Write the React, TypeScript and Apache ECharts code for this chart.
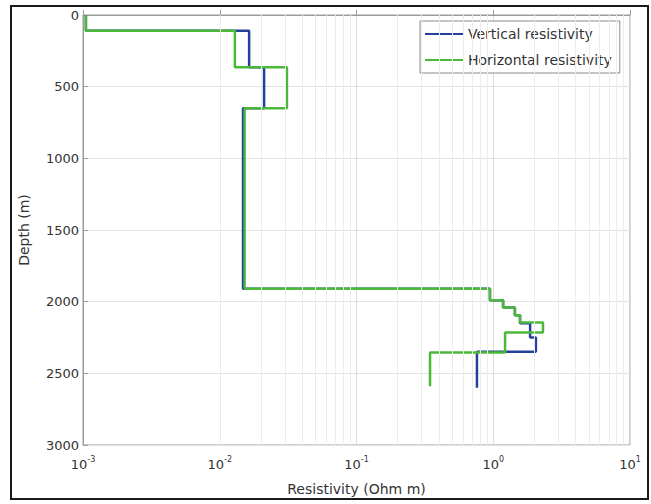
import React, { useEffect, useRef } from "react";
import * as echarts from "echarts";

// Layer boundaries (depth, m) and resistivity per layer (Ohm m)
const verticalDepths = [0, 110, 365, 650, 1910, 1990, 2040, 2095, 2150, 2250, 2350, 2600];
const verticalValues = [0.00105, 0.0164, 0.0211, 0.0148, 0.946, 1.18, 1.44, 1.57, 1.86, 2.05, 0.76];

const horizontalDepths = [0, 110, 365, 650, 1910, 1990, 2040, 2095, 2145, 2215, 2355, 2590];
const horizontalValues = [0.00105, 0.0129, 0.031, 0.0152, 0.946, 1.18, 1.44, 1.57, 2.31, 1.22, 0.345];

const minorGridValues = [
  0.002, 0.003, 0.004, 0.005, 0.006, 0.007, 0.008, 0.009,
  0.02, 0.03, 0.04, 0.05, 0.06, 0.07, 0.08, 0.09,
  0.2, 0.3, 0.4, 0.5, 0.6, 0.7, 0.8, 0.9,
  2, 3, 4, 5, 6, 7, 8, 9,
];

const seriesNames = ["Vertical resistivity", "Horizontal resistivity"];

function toSteps(depths: number[], values: number[]) {
  const pts: [number, number][] = [];
  for (let i = 0; i < values.length; i++) {
    pts.push([values[i], depths[i]]);
    pts.push([values[i], depths[i + 1]]);
  }
  return pts;
}

const FONT = "DejaVu Sans";

export default function App() {
  const ref = useRef<HTMLDivElement>(null);
  useEffect(() => {
    if (!ref.current) return;
    const chart = echarts.init(ref.current, null, { renderer: "svg" });
    chart.setOption({
      animation: false,
      backgroundColor: "#ffffff",
      grid: {
        left: 83,
        right: 21,
        top: 15,
        bottom: 59,
        show: true,
        borderColor: "#9a9a9a",
        borderWidth: 1,
      },
      legend: {
        data: seriesNames.map((n) => ({ name: n, icon: "rect" })),
        orient: "vertical",
        left: 420,
        top: 21,
        padding: [6, 8, 6, 5],
        itemGap: 12,
        itemWidth: 38,
        itemHeight: 2,
        borderColor: "#8a8a8a",
        borderWidth: 1,
        backgroundColor: "#ffffff",
        textStyle: { fontFamily: FONT, fontSize: 14, color: "#333" },
      },
      xAxis: {
        type: "log",
        logBase: 10,
        min: 0.001,
        max: 10,
        name: "Resistivity (Ohm m)",
        nameLocation: "middle",
        nameGap: 37,
        nameTextStyle: { fontFamily: FONT, fontSize: 14, color: "#333" },
        axisLine: { show: true, lineStyle: { color: "#9a9a9a" } },
        axisTick: { show: true, inside: true, length: 5, lineStyle: { color: "#9a9a9a" } },
        splitLine: { show: true, lineStyle: { color: "#dcdcdc", width: 1 } },
        axisLabel: {
          margin: 10,
          color: "#333",
          formatter: (v: number) => `{b|10}{s|${Math.round(Math.log10(v))}}`,
          rich: {
            b: { fontFamily: FONT, fontSize: 13, color: "#333" },
            s: { fontFamily: FONT, fontSize: 8, color: "#333", padding: [0, 0, 10, 0] },
          },
        },
      },
      yAxis: {
        type: "value",
        inverse: true,
        min: 0,
        max: 3000,
        interval: 500,
        name: "Depth (m)",
        nameLocation: "middle",
        nameRotate: 90,
        nameGap: 52,
        nameTextStyle: { fontFamily: FONT, fontSize: 14, color: "#333" },
        axisLine: { show: true, lineStyle: { color: "#9a9a9a" } },
        axisTick: { show: true, inside: true, length: 5, lineStyle: { color: "#9a9a9a" } },
        splitLine: { show: true, lineStyle: { color: "#e2e2e2", width: 1 } },
        axisLabel: {
          fontFamily: FONT,
          fontSize: 13,
          color: "#333",
          margin: 4,
          formatter: (v: number) => String(v),
        },
      },
      graphic: [
        {
          type: "rect",
          shape: { x: 11, y: 6, width: 637, height: 493 },
          style: { fill: "none", stroke: "#1a1a1a", lineWidth: 2 },
          silent: true,
          z: 100,
        },
      ],
      series: [
        {
          name: "minor-grid",
          type: "line",
          data: [],
          z: 1,
          silent: true,
          markLine: {
            silent: true,
            symbol: ["none", "none"],
            label: { show: false },
            lineStyle: { color: "#ececec", width: 1, type: "solid" },
            data: minorGridValues.map((v) => ({ xAxis: v })),
          },
        },
        {
          name: seriesNames[0],
          type: "line",
          data: toSteps(verticalDepths, verticalValues),
          showSymbol: false,
          symbol: "none",
          z: 3,
          lineStyle: { color: "#24409c", width: 2.5 },
          itemStyle: { color: "#24409c" },
        },
        {
          name: seriesNames[1],
          type: "line",
          data: toSteps(horizontalDepths, horizontalValues),
          showSymbol: false,
          symbol: "none",
          z: 4,
          lineStyle: { color: "#4cb83a", width: 2.5 },
          itemStyle: { color: "#4cb83a" },
        },
      ],
    });
    return () => chart.dispose();
  }, []);
  return (
    <div
      ref={ref}
      style={{ position: "fixed", left: 0, top: 0, width: 651, height: 504 }}
    />
  );
}
